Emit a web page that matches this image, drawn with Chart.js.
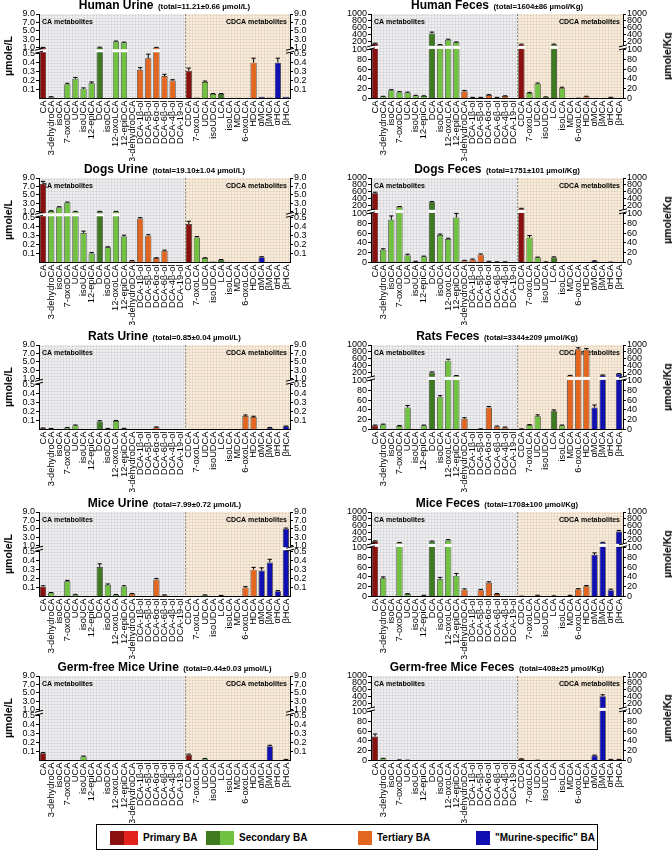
<!DOCTYPE html>
<html>
<head>
<meta charset="utf-8">
<script src="https://cdn.jsdelivr.net/npm/chart.js@4.4.1/dist/chart.umd.min.js"></script>
<style>
  body { margin: 0; background: #fff; }
  #page { position: relative; width: 672px; height: 852px; overflow: hidden; font-family: "Liberation Sans", Arial, sans-serif; color: #000; }
  canvas { position: absolute; }
  .ttl { position: absolute; white-space: nowrap; transform: translateX(-50%); font-weight: bold; line-height: 12px; }
  .ttl .big { font-size: 12px; }
  .ttl .small { font-size: 7.8px; }
  .ylab { position: absolute; font-weight: bold; font-size: 10.5px; white-space: nowrap; transform: translate(-50%, -50%) rotate(-90deg); }
  #legend { position: absolute; left: 96px; top: 824px; width: 500px; height: 24px; border: 1.5px solid #000; }
  .sw { position: absolute; top: 6px; height: 14px; }
  .lt { position: absolute; top: 7px; font-size: 10px; font-weight: bold; line-height: 12px; white-space: nowrap; }
</style>
</head>
<body>
<div id="page"></div>
<script>
// categories (CA metabolites first 18, then CDCA metabolites)
const categories = ['CA', '3-dehydroCA', 'isoCA', '7-oxoDCA', 'UCA', 'isoUCA', '12-epiCA', 'DCA', 'isoDCA',
  '12-oxoLCA', '12-epiDCA', '3-dehydroDCA', 'DCA-1β-ol', 'DCA-5β-ol', 'DCA-6α-ol', 'DCA-6β-ol', 'DCA-4β-ol',
  'DCA-19-ol', 'CDCA', '7-oxoLCA', 'UDCA', 'isoUDCA', 'LCA', 'isoLCA', 'MDCA', '6-oxoLCA', 'HDCA',
  'αMCA', 'βMCA', 'αHCA', 'βHCA'];

const primaryBA = ['CA', 'CDCA'];
const secondaryDark = ['DCA', 'LCA'];
const tertiaryBA = ['3-dehydroDCA', 'DCA-1β-ol', 'DCA-5β-ol', 'DCA-6α-ol', 'DCA-6β-ol', 'DCA-4β-ol', 'DCA-19-ol',
  'MDCA', '6-oxoLCA', 'HDCA'];
const murineBA = ['αMCA', 'βMCA', 'αHCA', 'βHCA'];

// urine in µmol/L, feces in µmol/Kg
const humanUrine    = [1.05, 0.015, 0, 0.16, 0.22, 0.11, 0.17, 1.1, 0, 2.5, 2.25, 0, 0.32, 0.45, 1.05, 0.25, 0.2, 0, 0.31, 0.01, 0.185, 0.05, 0.05, 0, 0.008, 0.005, 0.4, 0.02, 0.01, 0.4, 0.02];
const humanUrineErr = [0.05, 0.005, 0, 0.01, 0.015, 0.008, 0.015, 0.05, 0, 0.1, 0.1, 0, 0.025, 0.045, 0.05, 0.02, 0.01, 0, 0.03, 0, 0.01, 0.005, 0.005, 0, 0, 0, 0.05, 0, 0, 0.05, 0];
const humanFeces    = [150, 4, 17, 13, 12, 6, 5, 440, 115, 260, 185, 15, 2, 2, 7, 2, 5, 0, 125, 11, 30, 3, 125, 21, 0, 0.5, 4, 0, 0, 2, 0];
const humanFecesErr = [10, 0.5, 1, 1, 1, 0.5, 0.5, 40, 5, 15, 10, 1.5, 0.3, 0.3, 0.8, 0.3, 0.5, 0, 8, 1.5, 1.5, 0.3, 8, 2, 0, 0.1, 0.6, 0, 0, 0.4, 0];
const dogsUrine     = [7.6, 1.2, 2.1, 3.2, 1.05, 0.33, 0.1, 1.05, 0.17, 1.05, 0.29, 0.02, 0.49, 0.3, 0.05, 0.13, 0.005, 0.005, 0.43, 0.28, 0.05, 0.01, 0.03, 0.008, 0, 0.005, 0, 0.06, 0, 0.005, 0];
const dogsUrineErr  = [0.6, 0.05, 0.1, 0.1, 0.05, 0.02, 0.01, 0.05, 0.005, 0.05, 0.015, 0.003, 0.02, 0.01, 0.003, 0.008, 0, 0, 0.03, 0.01, 0.003, 0, 0.003, 0, 0, 0, 0, 0.005, 0, 0, 0];
const dogsFeces     = [560, 26, 87, 170, 15, 2, 12, 300, 56, 48, 92, 4, 6, 16, 2, 1, 1, 0, 120, 51, 10, 1, 10, 0, 0, 0, 0, 3, 0, 0.5, 0];
const dogsFecesErr  = [30, 2, 8, 10, 2, 0.5, 1, 20, 2, 1.5, 8, 0.5, 1, 1.5, 0.4, 0.3, 0.3, 0, 8, 4, 1, 0.3, 1.5, 0, 0, 0, 0, 0.5, 0, 0.2, 0];
const ratsUrine     = [0.015, 0.01, 0, 0.02, 0.045, 0, 0, 0.09, 0.01, 0.095, 0.01, 0.003, 0, 0, 0.025, 0, 0, 0, 0.002, 0.002, 0, 0, 0.002, 0.002, 0.005, 0.15, 0.14, 0, 0.02, 0, 0.035];
const ratsUrineErr  = [0.002, 0.002, 0, 0.003, 0.005, 0, 0, 0.008, 0.002, 0.006, 0.003, 0, 0, 0, 0.004, 0, 0, 0, 0, 0, 0, 0, 0, 0, 0, 0.012, 0.008, 0, 0.003, 0, 0.004];
const ratsFeces     = [8, 10, 0, 7, 45, 0, 8, 210, 66, 550, 115, 22, 0, 1, 45, 6, 4, 0, 1, 9, 27, 0, 37, 8, 120, 880, 860, 45, 130, 0, 170];
const ratsFecesErr  = [1, 1, 0, 1, 4, 0, 1, 15, 3, 40, 5, 2, 0, 0.3, 2, 1, 1, 0, 0.3, 1, 3, 0, 3, 1, 5, 40, 40, 5, 8, 0, 10];
const miceUrine     = [0.11, 0.04, 0, 0.17, 0.02, 0, 0, 0.33, 0.13, 0.02, 0.11, 0.03, 0, 0, 0.19, 0.015, 0, 0, 0.002, 0, 0.015, 0, 0.01, 0, 0.002, 0.1, 0.3, 0.29, 0.38, 0.06, 5.0];
const miceUrineErr  = [0.01, 0.005, 0, 0.01, 0.004, 0, 0, 0.035, 0.01, 0.003, 0.01, 0.004, 0, 0, 0.012, 0.003, 0, 0, 0, 0, 0.003, 0, 0.002, 0, 0, 0.01, 0.025, 0.03, 0.035, 0.006, 0.2];
const miceFeces     = [160, 37, 0, 115, 5, 0, 2, 150, 35, 190, 42, 14, 0, 13, 28, 5, 0, 0, 0.5, 0, 2, 0, 1, 0, 2, 15, 21, 85, 120, 13, 440];
const miceFecesErr  = [10, 3, 0, 8, 0.8, 0, 0.5, 12, 4, 15, 5, 1.5, 0, 1.5, 2, 1, 0, 0, 0.2, 0, 0.5, 0, 0.3, 0, 0.4, 1, 1.5, 4, 8, 2, 30];
const gfUrine       = [0.08, 0, 0, 0, 0, 0.045, 0, 0, 0, 0, 0, 0, 0, 0, 0, 0, 0, 0, 0.065, 0, 0.02, 0, 0, 0, 0, 0, 0, 0, 0.16, 0, 0.01];
const gfUrineErr    = [0.01, 0, 0, 0, 0, 0.004, 0, 0, 0, 0, 0, 0, 0, 0, 0, 0, 0, 0, 0.006, 0, 0.003, 0, 0, 0, 0, 0, 0, 0, 0.01, 0, 0.002];
const gfFeces       = [49, 4, 0, 1, 0.5, 0, 0, 0, 0, 0, 0, 0, 0, 0, 0, 0, 0, 0, 3, 0, 0.5, 0, 0, 0, 0, 0, 0, 10, 420, 2, 2];
const gfFecesErr    = [5, 0.5, 0, 0.3, 0.2, 0, 0, 0, 0, 0, 0, 0, 0, 0, 0, 0, 0, 0, 0.5, 0, 0.1, 0, 0, 0, 0, 0, 0, 1, 40, 0.3, 0.3];

const urineTicks = [0.1, 0.2, 0.3, 0.4, 0.5, 1.0, 3.0, 5.0, 7.0, 9.0];
const fecesTicks = [0, 20, 40, 60, 80, 100, 200, 400, 600, 800, 1000];

// broken axis: lower part, gap, upper part as shares of 100 display units
const urineBreak = { lo: 0.5, hi: 1.0, max: 9.0, lowD: 53, gapD: 7, decimals: 1 };
const fecesBreak = { lo: 100, hi: 100, max: 1000, lowD: 58, gapD: 5, decimals: 0 };

function toDisplay(v, b) {
  if (v <= b.lo) return v / b.lo * b.lowD;
  if (v < b.hi) return b.lowD + (v - b.lo) / (b.hi - b.lo) * b.gapD;
  return b.lowD + b.gapD + (v - b.hi) / (b.max - b.hi) * (100 - b.lowD - b.gapD);
}

const colors = { darkRed: '#8a1010', red: '#e3221b', darkGreen: '#3d7a20', lightGreen: '#71c142', orange: '#e2661f', blue: '#1010b2' };
const barColors = categories.map(c => {
  if (primaryBA.includes(c)) return colors.darkRed;
  if (secondaryDark.includes(c)) return colors.darkGreen;
  if (tertiaryBA.includes(c)) return colors.orange;
  if (murineBA.includes(c)) return colors.blue;
  return colors.lightGreen;
});

const panels = [
  { title: 'Human Urine', total: '(total=11.21±0.66 µmol/L)', values: humanUrine, errors: humanUrineErr, row: 0, col: 0 },
  { title: 'Human Feces', total: '(total=1604±86 µmol/Kg)', values: humanFeces, errors: humanFecesErr, row: 0, col: 1 },
  { title: 'Dogs Urine', total: '(total=19.10±1.04 µmol/L)', values: dogsUrine, errors: dogsUrineErr, row: 1, col: 0 },
  { title: 'Dogs Feces', total: '(total=1751±101 µmol/Kg)', values: dogsFeces, errors: dogsFecesErr, row: 1, col: 1 },
  { title: 'Rats Urine', total: '(total=0.85±0.04 µmol/L)', values: ratsUrine, errors: ratsUrineErr, row: 2, col: 0 },
  { title: 'Rats Feces', total: '(total=3344±209 µmol/Kg)', values: ratsFeces, errors: ratsFecesErr, row: 2, col: 1 },
  { title: 'Mice Urine', total: '(total=7.99±0.72 µmol/L)', values: miceUrine, errors: miceUrineErr, row: 3, col: 0 },
  { title: 'Mice Feces', total: '(total=1708±100 µmol/Kg)', values: miceFeces, errors: miceFecesErr, row: 3, col: 1 },
  { title: 'Germ-free Mice Urine', total: '(total=0.44±0.03 µmol/L)', values: gfUrine, errors: gfUrineErr, row: 4, col: 0 },
  { title: 'Germ-free Mice Feces', total: '(total=408±25 µmol/Kg)', values: gfFeces, errors: gfFecesErr, row: 4, col: 1 }
];

const rowTops = [14, 178, 345, 512, 676];
const axisWidths = [[39, 46], [35, 49]];
const PAD_TOP = 8, X_HEIGHT = 62.5, CANVAS_H = 155;
const FONT = '"Liberation Sans", Arial, sans-serif';
Chart.defaults.font.family = FONT;
Chart.defaults.color = '#000';

const page = document.getElementById('page');

function yScale(position, width, brk, tickVals) {
  return {
    position: position,
    min: 0,
    max: 100,
    afterBuildTicks(axis) { axis.ticks = tickVals.map(v => ({ value: toDisplay(v, brk) })); },
    afterFit(axis) { axis.width = width; },
    ticks: {
      autoSkip: false, padding: 1, font: { size: 9 }, color: '#000',
      callback: (v, i) => tickVals[i].toFixed(brk.decimals)
    },
    grid: { drawOnChartArea: false, drawTicks: true, tickLength: 3, color: '#000', lineWidth: 1 },
    border: { display: true, color: '#000', width: 1 }
  };
}

function makePanel(p) {
  const isUrine = p.col === 0;
  const brk = isUrine ? urineBreak : fecesBreak;
  const tickVals = isUrine ? urineTicks : fecesTicks;
  const [lw, rw] = axisWidths[p.col];
  const left = p.col * 336;
  const top = rowTops[p.row];

  const canvas = document.createElement('canvas');
  canvas.width = 336;
  canvas.height = CANVAS_H;
  canvas.style.left = left + 'px';
  canvas.style.top = (top - PAD_TOP) + 'px';
  canvas.style.width = '336px';
  canvas.style.height = CANVAS_H + 'px';
  page.appendChild(canvas);

  const panelPlugin = {
    id: 'panelDeco',
    beforeDraw(chart) {
      const { ctx, chartArea: a, scales: { x } } = chart;
      const sep = (x.getPixelForValue(17) + x.getPixelForValue(18)) / 2;
      ctx.save();
      ctx.fillStyle = '#efeff1';
      ctx.fillRect(a.left, a.top, sep - a.left, a.height);
      ctx.fillStyle = '#fbecd9';
      ctx.fillRect(sep, a.top, a.right - sep, a.height);
      // fine graph-paper grid
      ctx.strokeStyle = 'rgba(0,0,0,0.06)';
      ctx.lineWidth = 1;
      ctx.beginPath();
      for (let gx = Math.round(a.left) + 3.5; gx < a.right; gx += 3) { ctx.moveTo(gx, a.top); ctx.lineTo(gx, a.bottom); }
      for (let gy = Math.round(a.bottom) - 2.5; gy > a.top; gy -= 3) { ctx.moveTo(a.left, gy); ctx.lineTo(a.right, gy); }
      ctx.stroke();
      // dashed separator
      ctx.strokeStyle = '#8a8a8a';
      ctx.setLineDash([2, 1.5]);
      ctx.beginPath();
      ctx.moveTo(Math.round(sep) + 0.5, a.top);
      ctx.lineTo(Math.round(sep) + 0.5, a.bottom);
      ctx.stroke();
      ctx.restore();
    },
    beforeDatasetsDraw(chart) {
      const { ctx, chartArea: a } = chart;
      ctx.save();
      ctx.font = 'bold 7px ' + FONT;
      ctx.fillStyle = '#000';
      ctx.textBaseline = 'alphabetic';
      ctx.textAlign = 'left';
      ctx.fillText('CA metabolites', a.left + 3, a.top + 10);
      ctx.textAlign = 'right';
      ctx.fillText('CDCA metabolites', a.right - 3, a.top + 10);
      ctx.restore();
    },
    afterDatasetsDraw(chart) {
      const { ctx, scales: { y } } = chart;
      const bars = chart.getDatasetMeta(0).data;
      const gapBottom = y.getPixelForValue(brk.lowD);
      const gapTop = y.getPixelForValue(brk.lowD + brk.gapD);
      const mid = (gapBottom + gapTop) / 2;
      ctx.save();
      p.values.forEach((v, i) => {
        const bar = bars[i];
        if (v > brk.lo) {
          ctx.fillStyle = '#ffffff';
          ctx.fillRect(bar.x - bar.width / 2 - 0.5, mid - 1.5, bar.width + 1, 3);
        }
        const e = p.errors[i];
        if (e > 0) {
          const yTop = y.getPixelForValue(toDisplay(v + e, brk));
          ctx.strokeStyle = '#000';
          ctx.lineWidth = 1;
          ctx.beginPath();
          ctx.moveTo(bar.x, bar.y);
          ctx.lineTo(bar.x, yTop);
          ctx.moveTo(bar.x - bar.width * 0.35, yTop);
          ctx.lineTo(bar.x + bar.width * 0.35, yTop);
          ctx.stroke();
        }
      });
      ctx.restore();
    },
    afterDraw(chart) {
      const { ctx, chartArea: a, scales: { y } } = chart;
      const gapBottom = y.getPixelForValue(brk.lowD);
      const gapTop = y.getPixelForValue(brk.lowD + brk.gapD);
      const mid = (gapBottom + gapTop) / 2;
      ctx.save();
      [a.left, a.right].forEach(ax => {
        ctx.fillStyle = '#ffffff';
        ctx.fillRect(ax - 1.5, mid - 1.5, 3, 3);
        ctx.strokeStyle = '#000';
        ctx.lineWidth = 1;
        ctx.beginPath();
        ctx.moveTo(ax - 4, mid - 0.5); ctx.lineTo(ax + 4, mid - 2.5);
        ctx.moveTo(ax - 4, mid + 2.5); ctx.lineTo(ax + 4, mid + 0.5);
        ctx.stroke();
      });
      ctx.restore();
    }
  };

  new Chart(canvas, {
    type: 'bar',
    data: {
      labels: categories,
      datasets: [{
        data: p.values.map(v => toDisplay(v, brk)),
        backgroundColor: barColors,
        borderColor: '#222',
        borderWidth: 0.7,
        barPercentage: 0.85,
        categoryPercentage: 0.9
      }]
    },
    options: {
      responsive: false,
      maintainAspectRatio: false,
      animation: false,
      devicePixelRatio: 1,
      layout: { padding: { top: PAD_TOP, left: 0, right: 0, bottom: 0 } },
      plugins: { legend: { display: false }, tooltip: { enabled: false } },
      scales: {
        x: {
          afterFit(axis) { axis.height = X_HEIGHT; },
          ticks: { autoSkip: false, minRotation: 90, maxRotation: 90, padding: 2, font: { size: 9.3 }, color: '#000' },
          grid: { display: true, drawOnChartArea: false, drawTicks: false },
          border: { display: true, color: '#000', width: 1 }
        },
        y: yScale('left', lw, brk, tickVals),
        y2: yScale('right', rw, brk, tickVals)
      }
    },
    plugins: [panelPlugin]
  });

  // title
  const plotCenter = left + (lw + (336 - rw)) / 2;
  const t = document.createElement('div');
  t.className = 'ttl';
  t.style.left = plotCenter + 'px';
  t.style.top = (top - 16) + 'px';
  t.innerHTML = '<span class="big">' + p.title + '</span> <span class="small">' + p.total + '</span>';
  page.appendChild(t);

  // axis title
  const yl = document.createElement('div');
  yl.className = 'ylab';
  yl.textContent = isUrine ? 'µmole/L' : 'µmole/Kg';
  yl.style.left = (isUrine ? 8 : 667) + 'px';
  yl.style.top = (top + 42) + 'px';
  page.appendChild(yl);
}

panels.forEach(makePanel);

// legend box
const legendItems = [
  { label: 'Primary BA', swatch: [colors.darkRed, colors.red], x: 13 },
  { label: 'Secondary BA', swatch: [colors.darkGreen, colors.lightGreen], x: 109 },
  { label: 'Tertiary BA', swatch: [colors.orange], x: 261 },
  { label: '"Murine-specific" BA', swatch: [colors.blue], x: 379 }
];
const legend = document.createElement('div');
legend.id = 'legend';
legendItems.forEach(item => {
  let x = item.x;
  item.swatch.forEach(c => {
    const s = document.createElement('div');
    s.className = 'sw';
    s.style.left = x + 'px';
    s.style.width = '14px';
    s.style.background = c;
    legend.appendChild(s);
    x += 14;
  });
  const t = document.createElement('div');
  t.className = 'lt';
  t.style.left = (x + 5) + 'px';
  t.textContent = item.label;
  legend.appendChild(t);
});
page.appendChild(legend);
</script>
</body>
</html>
